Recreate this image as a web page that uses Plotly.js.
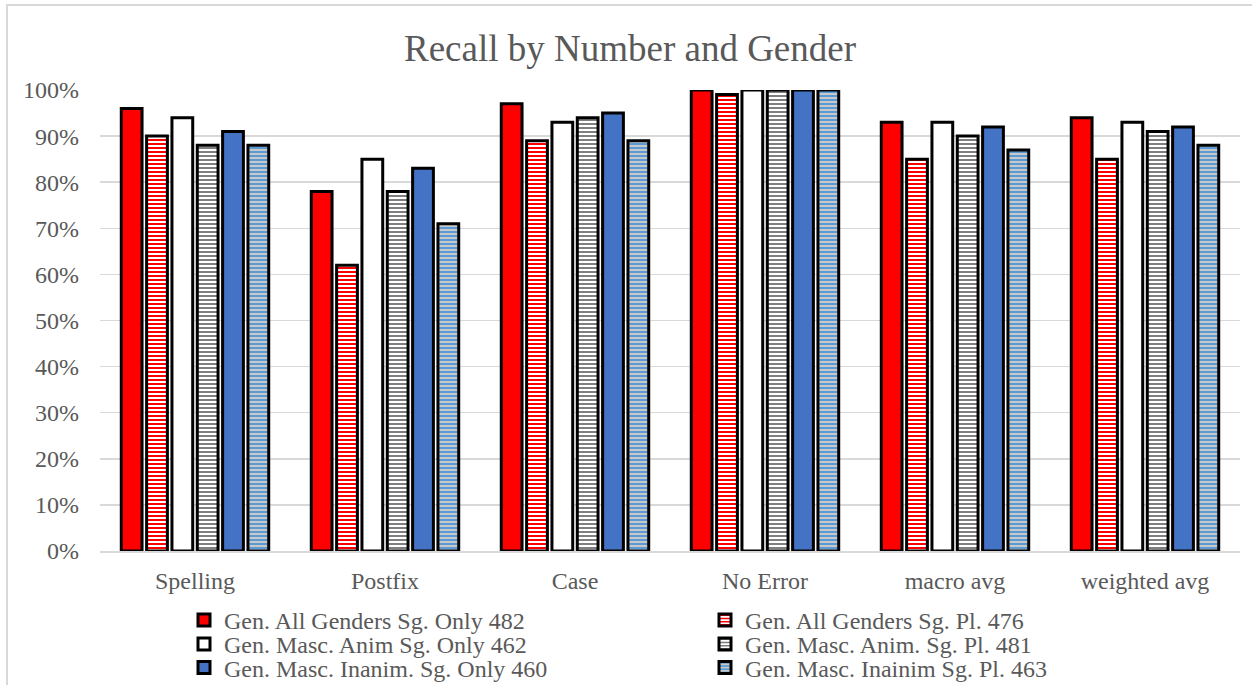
<!DOCTYPE html>
<html>
<head>
<meta charset="utf-8">
<script src="https://cdn.plot.ly/plotly-3.0.1.min.js"></script>
<style>html,body{margin:0;padding:0;background:#fff;}#chart{width:1253px;height:685px;}</style>
</head>
<body>
<div id="chart"></div>
<script>
const categories = ["Spelling", "Postfix", "Case", "No Error", "macro avg", "weighted avg"];
const seriesNames = [
  "Gen. All Genders Sg. Only 482",
  "Gen. All Genders Sg. Pl. 476",
  "Gen. Masc. Anim Sg. Only 462",
  "Gen. Masc. Anim. Sg. Pl. 481",
  "Gen. Masc. Inanim. Sg. Only 460",
  "Gen. Masc. Inainim Sg. Pl. 463"
];
const allGendersSgOnly = [0.96, 0.78, 0.97, 1.00, 0.93, 0.94];
const allGendersSgPl   = [0.90, 0.62, 0.89, 0.99, 0.85, 0.85];
const mascAnimSgOnly   = [0.94, 0.85, 0.93, 1.00, 0.93, 0.93];
const mascAnimSgPl     = [0.88, 0.78, 0.94, 1.00, 0.90, 0.91];
const mascInanimSgOnly = [0.91, 0.83, 0.95, 1.00, 0.92, 0.92];
const mascInanimSgPl   = [0.88, 0.71, 0.89, 1.00, 0.87, 0.88];
const yTickVals = [0, 0.1, 0.2, 0.3, 0.4, 0.5, 0.6, 0.7, 0.8, 0.9, 1.0];
const yTickText = ["0%", "10%", "20%", "30%", "40%", "50%", "60%", "70%", "80%", "90%", "100%"];

const values = [allGendersSgOnly, allGendersSgPl, mascAnimSgOnly, mascAnimSgPl, mascInanimSgOnly, mascInanimSgPl];
const styles = [
  {color: "#FF0000", pattern: null},
  {color: "#FFFFFF", pattern: {shape: "-", fgcolor: "#FF0000", bgcolor: "#FFFFFF", size: 4, solidity: 0.5}},
  {color: "#FFFFFF", pattern: null},
  {color: "#FFFFFF", pattern: {shape: "-", fgcolor: "#7F7F7F", bgcolor: "#FFFFFF", size: 4, solidity: 0.5}},
  {color: "#4472C4", pattern: null},
  {color: "#C8C8C8", pattern: {shape: "-", fgcolor: "#5B9BD5", bgcolor: "#C8C8C8", size: 4, solidity: 0.5}}
];
const legendIds = ["legend", "legend2", "legend3", "legend4", "legend5", "legend6"];

const traces = values.map((v, i) => {
  const marker = {color: styles[i].color, line: {color: "#000000", width: 3}};
  if (styles[i].pattern) marker.pattern = Object.assign({fillmode: "replace"}, styles[i].pattern);
  return {type: "bar", name: seriesNames[i], x: categories, y: v, marker: marker,
          legend: legendIds[i], hoverinfo: "skip"};
});

const font = "Liberation Serif, Times New Roman, serif";
const W = 1253, H = 685;
const plotH = 461, plotW = 1140;
function legendAt(leftPx, centerPx) {
  return {orientation: "v", xref: "container", yref: "container",
          x: leftPx / W, xanchor: "left", y: 1 - centerPx / H, yanchor: "middle",
          itemwidth: 30, font: {family: font, size: 24, color: "#595959"}, bgcolor: "rgba(0,0,0,0)"};
}
const layout = {
  width: W, height: H,
  margin: {l: 100, r: 13, t: 90, b: 134, autoexpand: false},
  paper_bgcolor: "#FFFFFF", plot_bgcolor: "#FFFFFF",
  font: {family: font, color: "#595959", size: 24},
  title: {text: "Recall by Number and Gender", x: 630 / W, xref: "container", xanchor: "center",
          y: 1 - 48 / H, yref: "container", yanchor: "middle",
          font: {family: font, size: 37, color: "#595959"}},
  barmode: "group", bargap: 0.2, bargroupgap: 0.18,
  xaxis: {type: "category", range: [-0.5, 5.5], showgrid: false, zeroline: false, showline: true,
          linecolor: "#D9D9D9", linewidth: 1.5, ticks: "", ticklabelstandoff: 8, automargin: false,
          tickangle: 0, tickfont: {family: font, size: 24, color: "#595959"}},
  yaxis: {range: [0, 1.0], tickvals: yTickVals, ticktext: yTickText, showgrid: true, gridcolor: "#D9D9D9",
          gridwidth: 1.5, zeroline: false, showline: false, ticks: "", ticklabelstandoff: 20, automargin: false,
          tickfont: {family: font, size: 24, color: "#595959"}},
  showlegend: true,
  legend: legendAt(184, 620.5),
  legend2: legendAt(705, 620.5),
  legend3: legendAt(184, 644.5),
  legend4: legendAt(705, 644.5),
  legend5: legendAt(184, 668),
  legend6: legendAt(705, 668),
  shapes: [
    {type: "line", xref: "paper", yref: "paper", x0: -94 / plotW, x1: 1152 / plotW, y0: 1 + 85 / plotH, y1: 1 + 85 / plotH,
     line: {color: "#D9D9D9", width: 2}},
    {type: "line", xref: "paper", yref: "paper", x0: -93 / plotW, x1: -93 / plotW, y0: 1 + 85 / plotH, y1: -134 / plotH,
     line: {color: "#D9D9D9", width: 2}}
  ]
};

Plotly.newPlot("chart", traces, layout, {displayModeBar: false, staticPlot: true});
</script>
</body>
</html>
